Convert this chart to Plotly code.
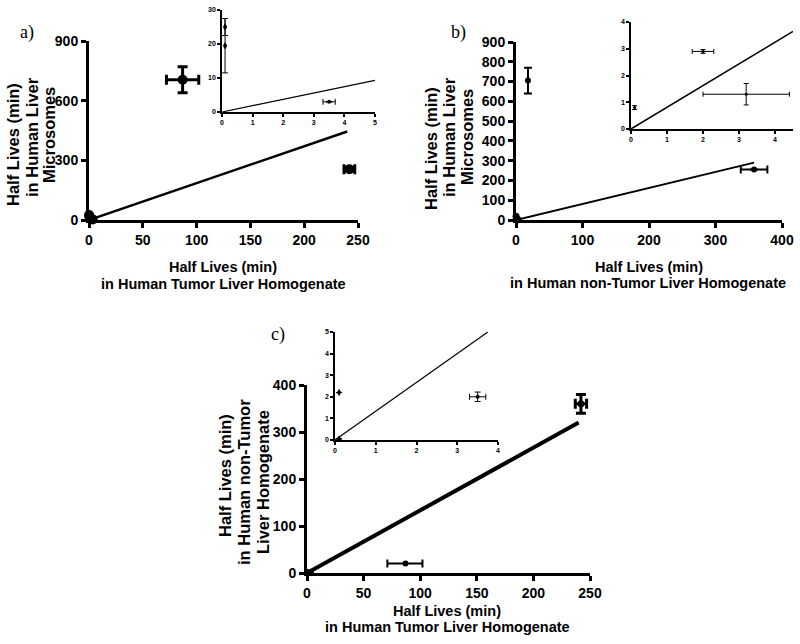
import plotly.graph_objects as go

W, H = 800, 644

# ---------------- data ----------------
# Panel a: x = tumor homogenate t1/2, y = microsome t1/2
a_x = [87, 242]
a_y = [705, 255]
a_xerr = [15, 5]
a_yerr = [65, 8]
a_near_x = [0.1, 0.1, 3.5]
a_near_y = [25, 19.5, 3]
a_line_x = [0, 240]
a_line_y = [0, 445]
a_in_x = [0.1, 0.1, 3.5]
a_in_y = [25, 19.5, 3]
a_in_xerr = [0, 0, 0.2]
a_in_yerr = [2.5, 8, 0]
a_in_line_x = [0, 5]
a_in_line_y = [0, 9.3]

# Panel b: x = non-tumor homogenate t1/2, y = microsome t1/2
b_x = [18, 358]
b_y = [705, 255]
b_xerr = [0, 20]
b_yerr = [65, 0]
b_near_x = [0.1, 2.0, 3.2, 0.1]
b_near_y = [0.8, 2.9, 1.3, 19.5]
b_line_x = [0, 358]
b_line_y = [0, 290]
b_in_x = [0.1, 2.0, 3.2]
b_in_y = [0.8, 2.9, 1.3]
b_in_xerr = [0, 0.3, 1.2]
b_in_yerr = [0.07, 0.07, 0.4]
b_in_line_x = [0, 4.5]
b_in_line_y = [0, 3.65]

# Panel c: x = tumor homogenate t1/2, y = non-tumor homogenate t1/2
c_x1 = [87]
c_y1 = [20]
c_xerr1_minus = [16]
c_xerr1_plus = [15]
c_x2 = [242]
c_y2 = [360]
c_xerr2 = [5]
c_yerr2 = [20]
c_near_x = [0.1, 3.5, 0.1]
c_near_y = [2.2, 2.0, 0.1]
c_line_x = [0, 240]
c_line_y = [0, 320]
c_in_x = [0.1, 3.5, 0.1]
c_in_y = [2.2, 2.0, 0.05]
c_in_xerr = [0, 0.2, 0]
c_in_yerr = [0, 0.22, 0]
c_in_line_x = [0, 3.75]
c_in_line_y = [0, 5]

FONT = "Arial, Liberation Sans, sans-serif"

def px(x):
    return x / W

def py(y):
    return 1 - y / H

fig = go.Figure()

def add(x, y, xa, ya, size, ex=None, ey=None, exm=None, eym=None, thick=2, capw=4, mode="markers", lw=2):
    kw = {}
    if ex is not None:
        d = dict(type="data", array=ex, color="black", thickness=thick, width=capw, visible=True)
        if exm is not None:
            d["symmetric"] = False
            d["arrayminus"] = exm
        kw["error_x"] = d
    if ey is not None:
        d = dict(type="data", array=ey, color="black", thickness=thick, width=capw, visible=True)
        if eym is not None:
            d["symmetric"] = False
            d["arrayminus"] = eym
        kw["error_y"] = d
    fig.add_trace(go.Scatter(
        x=x, y=y, mode=mode, xaxis=xa, yaxis=ya, showlegend=False,
        marker=dict(color="black", size=size),
        line=dict(color="black", width=lw),
        cliponaxis=False, **kw))

# panel a main (x, y)
add(a_x, a_y, "x", "y", 10, ex=a_xerr, ey=a_yerr, thick=3, capw=5)
add(a_near_x, a_near_y, "x", "y", 10)
add(a_line_x, a_line_y, "x", "y", 0, mode="lines", lw=2.5)
# panel a inset (x2, y2)
add(a_in_x, a_in_y, "x2", "y2", 4, ex=a_in_xerr, ey=a_in_yerr, thick=1, capw=3)
add(a_in_line_x, a_in_line_y, "x2", "y2", 0, mode="lines", lw=1.2)

# panel b main (x3, y3)
add(b_x, b_y, "x3", "y3", 6, ex=b_xerr, ey=b_yerr, thick=2, capw=4)
add(b_near_x, b_near_y, "x3", "y3", 7)
add(b_line_x, b_line_y, "x3", "y3", 0, mode="lines", lw=2)
# panel b inset (x4, y4)
add(b_in_x, b_in_y, "x4", "y4", 3, ex=b_in_xerr, ey=b_in_yerr, thick=1, capw=2.5)
add(b_in_line_x, b_in_line_y, "x4", "y4", 0, mode="lines", lw=1.5)

# panel c main (x5, y5)
add(c_x1, c_y1, "x5", "y5", 6, ex=c_xerr1_plus, exm=c_xerr1_minus, thick=2, capw=4)
add(c_x2, c_y2, "x5", "y5", 7, ex=c_xerr2, ey=c_yerr2, thick=3, capw=5)
add(c_near_x, c_near_y, "x5", "y5", 6)
add(c_line_x, c_line_y, "x5", "y5", 0, mode="lines", lw=4)
# panel c inset (x6, y6)
add(c_in_x, c_in_y, "x6", "y6", 4, ex=c_in_xerr, ey=c_in_yerr, thick=1, capw=3)
add(c_in_line_x, c_in_line_y, "x6", "y6", 0, mode="lines", lw=1.2)


def ax(domain, rng, dtick, anchor, lw, fs, tl, bold=True):
    return dict(domain=domain, range=rng, dtick=dtick, tick0=0, anchor=anchor,
                showline=True, linecolor="black", linewidth=lw,
                ticks="outside", ticklen=tl, tickwidth=lw, tickcolor="black",
                showgrid=False, zeroline=False, fixedrange=True, automargin=False,
                tickfont=dict(family=FONT, size=fs, color="black",
                              weight="bold" if bold else "normal"))

TF = 14
layout = dict(
    width=W, height=H, margin=dict(l=0, r=0, t=0, b=0, pad=0, autoexpand=False),
    paper_bgcolor="white", plot_bgcolor="rgba(0,0,0,0)", showlegend=False,
    xaxis=ax([px(89), px(358)], [0, 250], 50, "y", 3, TF, 5),
    yaxis=ax([py(220), py(41)], [0, 900], 300, "x", 3, TF, 5),
    xaxis2=ax([px(222), px(375)], [0, 5], 1, "y2", 1.5, 7, 3),
    yaxis2=ax([py(112), py(10)], [0, 30], 10, "x2", 1.5, 7, 3),
    xaxis3=ax([px(516), px(782)], [0, 400], 100, "y3", 3, TF, 5),
    yaxis3=ax([py(220), py(42)], [0, 900], 100, "x3", 3, TF, 5),
    xaxis4=ax([px(631), px(793)], [0, 4.5], 1, "y4", 1.5, 7, 3),
    yaxis4=ax([py(129), py(22)], [0, 4], 1, "x4", 1.5, 7, 3),
    xaxis5=ax([px(307), px(590)], [0, 250], 50, "y5", 3, TF, 5),
    yaxis5=ax([py(573), py(385)], [0, 400], 100, "x5", 3, TF, 5),
    xaxis6=ax([px(335), px(498)], [0, 4], 1, "y6", 1.5, 7, 3),
    yaxis6=ax([py(440), py(332)], [0, 5], 1, "x6", 1.5, 7, 3),
)
fig.update_layout(**layout)

ann = []

def text(t, x, y, size=14.5, angle=0, bold=True, family=FONT):
    ann.append(dict(text=t, x=px(x), y=py(y), xref="paper", yref="paper",
                    showarrow=False, xanchor="center", yanchor="middle",
                    textangle=angle,
                    font=dict(family=family, size=size, color="black",
                              weight="bold" if bold else "normal")))

YT = 16.5
# x titles
text("Half Lives (min)", 223, 267)
text("in Human Tumor Liver Homogenate", 223, 284)
text("Half Lives (min)", 649, 267)
text("in Human non-Tumor Liver Homogenate", 648, 283)
text("Half Lives (min)", 447, 611)
text("in Human Tumor Liver Homogenate", 447, 627)
# y titles
text("Half Lives (min)", 13, 145, size=YT, angle=-90)
text("in Human Liver", 32, 137, size=YT, angle=-90)
text("Microsomes", 49, 135, size=YT, angle=-90)
text("Half Lives (min)", 431, 148, size=YT, angle=-90)
text("in Human Liver", 449, 137, size=YT, angle=-90)
text("Microsomes", 467, 137, size=YT, angle=-90)
text("Half Lives (min)", 225, 476, size=YT, angle=-90)
text("in Human non-Tumor", 244, 482, size=YT, angle=-90)
text("Liver Homogenate", 263, 482, size=YT, angle=-90)
# panel labels
SERIF = "Liberation Serif, Times New Roman, serif"
text("a)", 27, 33, size=18, bold=False, family=SERIF)
text("b)", 458, 33, size=18, bold=False, family=SERIF)
text("c)", 278, 334, size=18, bold=False, family=SERIF)

fig.update_layout(annotations=ann)
fig.write_html(
    "out.html",
    config={"displayModeBar": False},
    post_script="document.body.style.margin='0px';document.body.style.overflow='hidden';",
)
